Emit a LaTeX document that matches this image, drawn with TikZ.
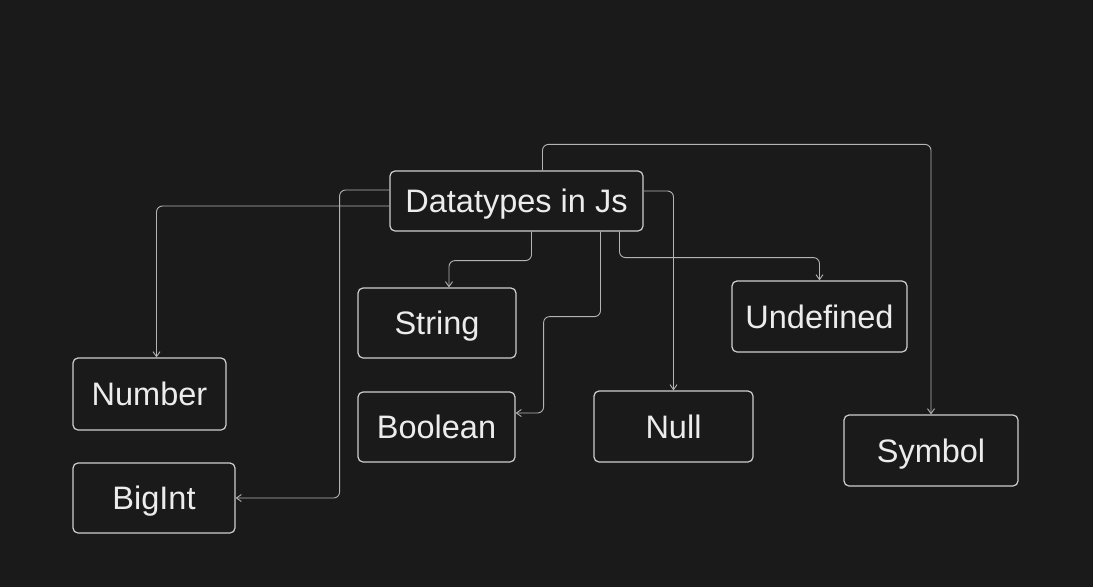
\documentclass[tikz,border=0pt]{standalone}
\usepackage{fontspec}
\setmainfont{Liberation Sans}
\usetikzlibrary{arrows.meta}
\definecolor{bg}{HTML}{1A1A1A}
\definecolor{boxline}{HTML}{CFCFCF}
\definecolor{linkline}{HTML}{B4B4B4}
\definecolor{txt}{HTML}{ECECEC}

\begin{document}
\begin{tikzpicture}[x=1pt,y=-1pt,
  box/.style={draw=boxline,line width=1.2pt,rounded corners=5pt,text=txt,
    font=\fontsize{32.5}{39}\selectfont,minimum height=70pt,inner sep=0pt,
    text height=23.5pt,text depth=0pt},
  link/.style={draw=linkline,line width=0.9pt,rounded corners=6pt,
    -{Straight Barb[length=5pt,width=7pt]}}]

\fill [bg] (0,0) rectangle (1093,587) ;
\useasboundingbox (0,0) rectangle (1093,587) ;

\node [box,minimum width=253pt,minimum height=60pt] (dt) at (516.5,201) {Datatypes in Js} ;
\node [box,minimum width=158pt] (str) at (437,323) {String} ;
\node [box,minimum width=157pt] (bool) at (436.5,427) {Boolean} ;
\node [box,minimum width=153pt,minimum height=72pt] (num) at (149.5,394) {Number} ;
\node [box,minimum width=162pt] (big) at (154,498) {BigInt} ;
\node [box,minimum width=159pt,minimum height=71pt] (null) at (673.5,426.5) {Null} ;
\node [box,minimum width=175pt,minimum height=71pt] (und) at (819.5,316.5) {Undefined} ;
\node [box,minimum width=174pt,minimum height=71pt] (sym) at (931,450.5) {Symbol} ;

\draw [link] ([yshift=-5pt]dt.west) -| ([xshift=7pt]num.north) ;
\draw [link] ([yshift=11pt]dt.west) -| ([xshift=104pt]big.east) -- (big.east) ;
\draw [link] ([xshift=15pt]dt.south) -- ++(0,29) -| ([xshift=12pt]str.north) ;
\draw [link] ([xshift=84pt]dt.south) -- ++(0,85) -| ([xshift=28pt,yshift=14pt]bool.east) -- ([yshift=14pt]bool.east) ;
\draw [link] ([yshift=10pt]dt.east) -| (null.north) ;
\draw [link] ([xshift=103pt]dt.south) -- ++(0,26) -| (und.north) ;
\draw [link] ([xshift=26pt]dt.north) -- ++(0,-26) -| (sym.north) ;
\end{tikzpicture}
\end{document}
